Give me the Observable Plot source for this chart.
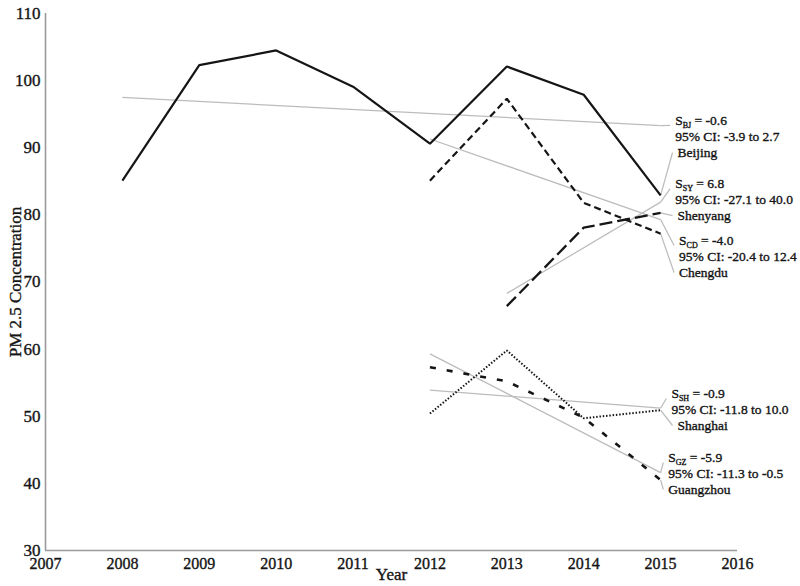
<!DOCTYPE html>
<html>
<head>
<meta charset="utf-8">
<script src="https://cdn.jsdelivr.net/npm/d3@7"></script>
<script src="https://cdn.jsdelivr.net/npm/@observablehq/plot@0.6"></script>
<style>
  html, body { margin: 0; padding: 0; background: #fff; }
  #chart { width: 800px; height: 586px; }
  #chart svg text { stroke: #141414; stroke-width: 0.35px; }
</style>
</head>
<body>
<div id="chart"></div>
<script>
// ---- data ----
const years = [2008, 2009, 2010, 2011, 2012, 2013, 2014, 2015];
const beijing   = [85.1, 102.3, 104.5, 99.1, 90.6, 102.1, 97.9, 82.9];
const shenyang  = [null, null, null, null, null, 66.4, 78.1, 80.3];
const chengdu   = [null, null, null, null, 85.1, 97.3, 81.8, 77.2];
const shanghai  = [null, null, null, null, 50.4, 59.8, 49.7, 50.9];
const guangzhou = [null, null, null, null, 57.3, 55.2, 49.8, 40.5];

const cities = ["Beijing", "Shenyang", "Chengdu", "Shanghai", "Guangzhou"];
const codes = ["BJ", "SY", "CD", "SH", "GZ"];
const slopeText = ["-0.6", "6.8", "-4.0", "-0.9", "-5.9"];
const ciText = ["-3.9 to 2.7", "-27.1 to 40.0", "-20.4 to 12.4", "-11.8 to 10.0", "-11.3 to -0.5"];

// trend lines (start year/value, end value at 2015)
const trendStartYear = [2008, 2013, 2012, 2012, 2012];
const trendStart = [97.5, 68.3, 91.3, 53.9, 59.3];
const trendEnd = [93.3, 81.9, 79.3, 51.2, 41.6];
const trendEndYear = 2015;

// annotation anchors (data units)
const labelYear = [2015.19, 2015.19, 2015.24, 2015.14, 2015.10];
const labelValue = [94.06, 84.67, 76.18, 53.39, 43.85];
const nameYear = [2015.22, 2015.22, 2015.24, 2015.22, 2015.10];

const xTicks = [2007, 2008, 2009, 2010, 2011, 2012, 2013, 2014, 2015, 2016];
const yTicks = [30, 40, 50, 60, 70, 80, 90, 100, 110];

// ---- layout ----
const W = 800, H = 586, ML = 45, MR = 63, MT = 13, MB = 36;
const pxPerYear = (W - ML - MR) / (2016 - 2007);
const pxPerUnit = (H - MT - MB) / (110 - 30);

const seriesValues = [beijing, shenyang, chengdu, shanghai, guangzhou];
const rows = [];
seriesValues.forEach((vals, i) => {
  vals.forEach((v, j) => { if (v != null) rows.push({city: cities[i], year: years[j], value: v}); });
});
const lastValue = seriesValues.map(vals => vals[vals.length - 1]);

const trends = cities.map((c, i) => ({
  city: c, x1: trendStartYear[i], y1: trendStart[i], x2: trendEndYear, y2: trendEnd[i]
}));
const labels = cities.map((c, i) => ({
  city: c, code: codes[i], slope: slopeText[i], ci: ciText[i],
  lx: labelYear[i], ly: labelValue[i], nx: nameYear[i]
}));
const leaders = [];
cities.forEach((c, i) => {
  leaders.push({x1: trendEndYear, y1: trendEnd[i], x2: labelYear[i] - 5 / pxPerYear, y2: labelValue[i] - 5 / pxPerUnit});
  leaders.push({x1: trendEndYear, y1: lastValue[i], x2: nameYear[i] - 5 / pxPerYear, y2: labelValue[i] - 32 / pxPerUnit});
});

const lineStyles = {
  Beijing:   {strokeWidth: 2.2, strokeDasharray: null},
  Shenyang:  {strokeWidth: 2.3, strokeDasharray: "13,5"},
  Chengdu:   {strokeWidth: 2.2, strokeDasharray: "7,4"},
  Shanghai:  {strokeWidth: 2.0, strokeDasharray: "1.5,1.8"},
  Guangzhou: {strokeWidth: 2.6, strokeDasharray: "6,11"}
};

const font = "'Liberation Serif', 'Times New Roman', serif";
const ink = "#141414";

const plot = Plot.plot({
  width: W, height: H,
  marginLeft: ML, marginRight: MR, marginTop: MT, marginBottom: MB,
  style: {fontFamily: font, background: "#fff", color: ink},
  x: {domain: [2007, 2016]},
  y: {domain: [30, 110]},
  marks: [
    Plot.axisX({ticks: xTicks, tickSize: 0, tickPadding: 7, tickFormat: d => String(d), label: null, fontSize: 16, fill: ink}),
    Plot.axisY({ticks: yTicks, tickSize: 0, tickPadding: 5, fontSize: 17, fill: ink,
      label: "PM 2.5 Concentration", labelAnchor: "center", labelArrow: false, labelOffset: 37}),
    Plot.ruleX([2007], {stroke: "#9a9a9a", strokeWidth: 1.6}),
    Plot.ruleY([30], {stroke: "#9a9a9a", strokeWidth: 1.6}),
    Plot.link(trends, {x1: "x1", y1: "y1", x2: "x2", y2: "y2", stroke: "#bcbcbc", strokeWidth: 1.25}),
    Plot.link(leaders, {x1: "x1", y1: "y1", x2: "x2", y2: "y2", stroke: "#bcbcbc", strokeWidth: 1.25}),
    ...cities.map(c => Plot.line(rows.filter(r => r.city === c), {
      x: "year", y: "value", stroke: "#151515",
      strokeWidth: lineStyles[c].strokeWidth,
      strokeDasharray: lineStyles[c].strokeDasharray,
      strokeLinejoin: "miter", strokeLinecap: "butt"
    })),
    Plot.text(labels, {x: "lx", y: "ly", text: d => `S{${d.code}} = ${d.slope}`, textAnchor: "start", fontSize: 13.5, fill: ink}),
    Plot.text(labels, {x: "lx", y: "ly", text: d => `95% CI: ${d.ci}`, dy: 16, textAnchor: "start", fontSize: 13.5, fill: ink}),
    Plot.text(labels, {x: "nx", y: "ly", text: "city", dy: 32, textAnchor: "start", fontSize: 13.5, fill: ink}),
    Plot.text(["Year"], {frameAnchor: "bottom", dy: 29, fontSize: 17, fill: ink})
  ]
});

// subscripts for S labels
d3.select(plot).selectAll("text").each(function () {
  if (this.childElementCount) return;
  const t = this.textContent;
  const m = t.match(/^S\{(\w+)\}(.*)$/);
  if (!m) return;
  const sel = d3.select(this);
  sel.text(null);
  sel.append("tspan").text("S");
  sel.append("tspan").attr("font-size", 8).attr("dy", 3).text(m[1]);
  sel.append("tspan").attr("dy", -3).text(m[2]);
});

document.getElementById("chart").appendChild(plot);
</script>
</body>
</html>
